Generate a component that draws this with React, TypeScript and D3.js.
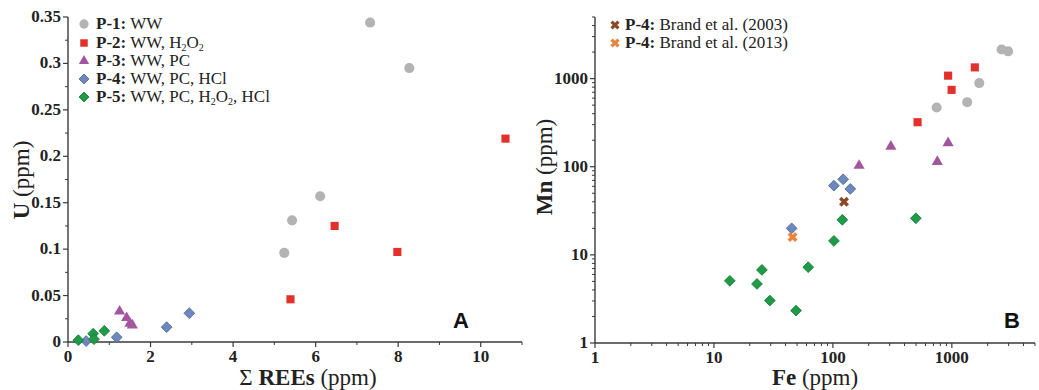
import React from "react";
import * as d3 from "d3";

// ---- Panel A data: ΣREEs (ppm) vs U (ppm)
const p1A_x = [7.32, 8.27, 6.11, 5.43, 5.24];
const p1A_y = [0.344, 0.295, 0.157, 0.131, 0.096];
const p2A_x = [10.6, 6.46, 7.98, 5.39];
const p2A_y = [0.219, 0.125, 0.097, 0.046];
const p3A_x = [1.25, 1.42, 1.5, 1.56];
const p3A_y = [0.033, 0.026, 0.02, 0.018];
const p4A_x = [0.44, 1.18, 2.39, 2.94];
const p4A_y = [0.001, 0.005, 0.016, 0.031];
const p5A_x = [0.25, 0.61, 0.63, 0.88];
const p5A_y = [0.002, 0.009, 0.003, 0.012];

// ---- Panel B data: Fe (ppm) vs Mn (ppm)
const p1B_x = [2620, 2970, 1700, 1345, 745];
const p1B_y = [2140, 2040, 890, 540, 470];
const p2B_x = [1560, 930, 995, 515];
const p2B_y = [1340, 1080, 745, 320];
const p3B_x = [930, 755, 307, 166];
const p3B_y = [186, 114, 170, 103];
const p4B_x = [102, 122, 140, 45];
const p4B_y = [61, 72, 56, 20];
const p5B_x = [120, 102, 62, 25.3, 13.6, 23, 29.5, 49, 498];
const p5B_y = [25, 14.4, 7.25, 6.75, 5.07, 4.68, 3.03, 2.33, 26];
const brand2003_x = [124];
const brand2003_y = [40];
const brand2013_x = [45.8];
const brand2013_y = [15.9];

const ticksAx = [0, 2, 4, 6, 8, 10];
const ticksAy = [0, 0.05, 0.1, 0.15, 0.2, 0.25, 0.3, 0.35];
const ticksLog = [1, 10, 100, 1000];

const COL = {
  grey: "#b3b3b3",
  red: "#e2302b",
  purple: "#a3569f",
  blue: "#6d88bd",
  blueS: "#4a6596",
  green: "#1f9a47",
  greenS: "#157a37",
  brown: "#8a4a28",
  orange: "#e8843c",
  axis: "#3a3a3a",
};

type Kind = "circle" | "square" | "triangle" | "diamond" | "x";

function symPath(kind: Kind, scale = 1): string {
  const s = scale;
  switch (kind) {
    case "circle":
      return d3.symbol(d3.symbolCircle, 80 * s)()!;
    case "square":
      return d3.symbol(d3.symbolSquare, 66 * s)()!;
    case "triangle":
      return d3.symbol(d3.symbolTriangle, 54 * s)()!;
    case "diamond":
      return d3.symbol(d3.symbolSquare, 58 * s)()!;
    case "x":
      return d3.symbol(d3.symbolCross, 62 * s)()!;
  }
}

function Marker({ kind, x, y, fill, stroke, scale = 1 }: { kind: Kind; x: number; y: number; fill: string; stroke?: string; scale?: number }) {
  const rot = kind === "diamond" || kind === "x" ? 45 : 0;
  return (
    <path
      d={symPath(kind, scale)}
      transform={`translate(${x},${y}) rotate(${rot})`}
      fill={fill}
      stroke={stroke || "none"}
      strokeWidth={stroke ? 0.8 : 0}
    />
  );
}

const SERIF = "Liberation Serif, Times New Roman, DejaVu Serif, serif";
const SANS = "Liberation Sans, Arial, sans-serif";

const serif = (size: number, weight = 400): React.CSSProperties => ({ fontFamily: SERIF, fontSize: size, fontWeight: weight });

export default function App() {
  // Panel A scales
  const xA = d3.scaleLinear().domain([0, 11]).range([68, 522]);
  const yA = d3.scaleLinear().domain([0, 0.35]).range([342, 17]);
  // Panel B scales
  const xB = d3.scaleLog().domain([1, 5000]).range([595, 1035]);
  const yB = d3.scaleLog().domain([1, 5000]).range([343, 17]);

  const minorAx = d3.range(1, 11.01, 2);
  const minorAy = d3.range(0.025, 0.35, 0.05);
  const minorLog: number[] = [];
  [1, 10, 100, 1000].forEach((dec) => {
    for (let k = 2; k <= 9; k++) if (dec * k <= 5000) minorLog.push(dec * k);
  });

  const series = (xs: number[], ys: number[], kind: Kind, fill: string, sx: any, sy: any, stroke?: string) =>
    xs.map((v, i) => <Marker key={kind + fill + i} kind={kind} x={sx(v)} y={sy(ys[i])} fill={fill} stroke={stroke} />);

  const tickStyle = serif(17, 700);

  const sub = (s: string) => (
    <tspan style={{ fontSize: 10 }} dy={3}>{s}</tspan>
  );

  const legA: { kind: Kind; fill: string; stroke?: string; bold: string; rest: React.ReactNode }[] = [
    { kind: "circle", fill: COL.grey, bold: "P-1:", rest: " WW" },
    { kind: "square", fill: COL.red, bold: "P-2:", rest: <>{" WW, H"}{sub("2")}<tspan dy={-3}>O</tspan>{sub("2")}</> },
    { kind: "triangle", fill: COL.purple, bold: "P-3:", rest: " WW, PC" },
    { kind: "diamond", fill: COL.blue, stroke: COL.blueS, bold: "P-4:", rest: " WW, PC, HCl" },
    { kind: "diamond", fill: COL.green, stroke: COL.greenS, bold: "P-5:", rest: <>{" WW, PC, H"}{sub("2")}<tspan dy={-3}>O</tspan>{sub("2")}<tspan dy={-3}>, HCl</tspan></> },
  ];
  const legAy = [24, 43, 61, 79, 97];

  return (
    <svg width={1039} height={390} style={{ position: "absolute", left: 0, top: 0, background: "#fff" }}>
      {/* ===== Panel A ===== */}
      <g>
        <line x1={68} x2={68} y1={17} y2={342} stroke={COL.axis} strokeWidth={1.4} />
        <line x1={68} x2={522} y1={342} y2={342} stroke={COL.axis} strokeWidth={1.4} />
        {ticksAy.map((t) => (
          <g key={"ay" + t}>
            <line x1={63} x2={68} y1={yA(t)} y2={yA(t)} stroke={COL.axis} strokeWidth={1.2} />
            <text x={61} y={yA(t) + 5} textAnchor="end" fill="#222" style={tickStyle}>{t}</text>
          </g>
        ))}
        {minorAy.map((t) => (
          <line key={"may" + t} x1={65} x2={68} y1={yA(t)} y2={yA(t)} stroke={COL.axis} strokeWidth={1} />
        ))}
        {ticksAx.map((t) => (
          <g key={"ax" + t}>
            <line x1={xA(t)} x2={xA(t)} y1={342} y2={347} stroke={COL.axis} strokeWidth={1.2} />
            <text x={xA(t)} y={362} textAnchor="middle" fill="#222" style={tickStyle}>{t}</text>
          </g>
        ))}
        {minorAx.map((t) => (
          <line key={"max" + t} x1={xA(t)} x2={xA(t)} y1={342} y2={345} stroke={COL.axis} strokeWidth={1} />
        ))}
        <text x={308} y={385} textAnchor="middle" fill="#222" style={serif(23)}>
          <tspan>Σ </tspan>
          <tspan style={{ fontWeight: 700 }}>REEs</tspan>
          <tspan> (ppm)</tspan>
        </text>
        <text transform={`translate(29,180) rotate(-90)`} textAnchor="middle" fill="#222" style={serif(23)}>
          <tspan style={{ fontWeight: 700 }}>U</tspan>
          <tspan> (ppm)</tspan>
        </text>
        <text x={461} y={328} textAnchor="middle" fill="#111" style={{ fontFamily: SANS, fontWeight: 700, fontSize: 22 }}>A</text>

        {series(p1A_x, p1A_y, "circle", COL.grey, xA, yA)}
        {series(p2A_x, p2A_y, "square", COL.red, xA, yA)}
        {series(p3A_x, p3A_y, "triangle", COL.purple, xA, yA)}
        {series(p4A_x, p4A_y, "diamond", COL.blue, xA, yA, COL.blueS)}
        {series(p5A_x, p5A_y, "diamond", COL.green, xA, yA, COL.greenS)}

        {legA.map((l, i) => (
          <g key={"legA" + i}>
            <Marker kind={l.kind} x={84} y={legAy[i]} fill={l.fill} stroke={l.stroke} scale={0.85} />
            <text x={96} y={legAy[i] + 5} fill="#222" style={serif(17)}>
              <tspan style={{ fontWeight: 700 }}>{l.bold}</tspan>
              {l.rest}
            </text>
          </g>
        ))}
      </g>

      {/* ===== Panel B ===== */}
      <g>
        <line x1={595} x2={595} y1={17} y2={343} stroke={COL.axis} strokeWidth={1.4} />
        <line x1={595} x2={1035} y1={343} y2={343} stroke={COL.axis} strokeWidth={1.4} />
        {ticksLog.map((t) => (
          <g key={"by" + t}>
            <line x1={590} x2={595} y1={yB(t)} y2={yB(t)} stroke={COL.axis} strokeWidth={1.2} />
            <text x={588} y={yB(t) + 5} textAnchor="end" fill="#222" style={tickStyle}>{t}</text>
          </g>
        ))}
        {minorLog.map((t) => (
          <line key={"mby" + t} x1={592} x2={595} y1={yB(t)} y2={yB(t)} stroke={COL.axis} strokeWidth={1} />
        ))}
        {ticksLog.map((t) => (
          <g key={"bx" + t}>
            <line x1={xB(t)} x2={xB(t)} y1={343} y2={348} stroke={COL.axis} strokeWidth={1.2} />
            <text x={xB(t)} y={363} textAnchor="middle" fill="#222" style={tickStyle}>{t}</text>
          </g>
        ))}
        {minorLog.map((t) => (
          <line key={"mbx" + t} x1={xB(t)} x2={xB(t)} y1={343} y2={346} stroke={COL.axis} strokeWidth={1} />
        ))}
        <text x={815} y={385} textAnchor="middle" fill="#222" style={serif(23)}>
          <tspan style={{ fontWeight: 700 }}>Fe</tspan>
          <tspan> (ppm)</tspan>
        </text>
        <text transform={`translate(552,167) rotate(-90)`} textAnchor="middle" fill="#222" style={serif(23)}>
          <tspan style={{ fontWeight: 700 }}>Mn</tspan>
          <tspan> (ppm)</tspan>
        </text>
        <text x={1012} y={328} textAnchor="middle" fill="#111" style={{ fontFamily: SANS, fontWeight: 700, fontSize: 22 }}>B</text>

        {series(p1B_x, p1B_y, "circle", COL.grey, xB, yB)}
        {series(p2B_x, p2B_y, "square", COL.red, xB, yB)}
        {series(p3B_x, p3B_y, "triangle", COL.purple, xB, yB)}
        {series(p4B_x, p4B_y, "diamond", COL.blue, xB, yB, COL.blueS)}
        {series(p5B_x, p5B_y, "diamond", COL.green, xB, yB, COL.greenS)}
        {series(brand2003_x, brand2003_y, "x", COL.brown, xB, yB)}
        {series(brand2013_x, brand2013_y, "x", COL.orange, xB, yB)}

        {[
          { fill: COL.brown, label: "Brand et al. (2003)", y: 25 },
          { fill: COL.orange, label: "Brand et al. (2013)", y: 43 },
        ].map((l, i) => (
          <g key={"legB" + i}>
            <Marker kind="x" x={615} y={l.y} fill={l.fill} scale={0.85} />
            <text x={625} y={l.y + 5} fill="#222" style={serif(17)}>
              <tspan style={{ fontWeight: 700 }}>P-4:</tspan>
              <tspan> {l.label}</tspan>
            </text>
          </g>
        ))}
      </g>
    </svg>
  );
}
